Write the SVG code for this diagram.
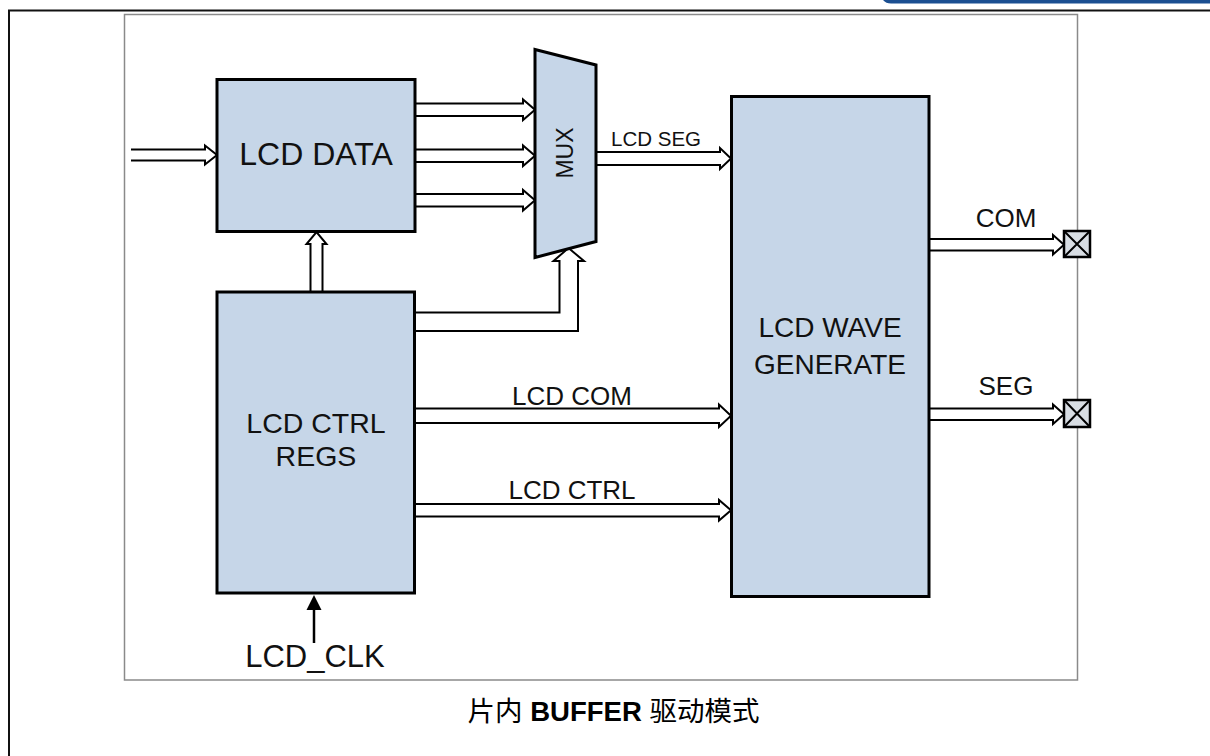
<svg xmlns="http://www.w3.org/2000/svg" width="1210" height="756" viewBox="0 0 1210 756">
<style>
.box{fill:#c6d6e8;stroke:#000;stroke-width:3}
.arr{fill:#fff;stroke:#000;stroke-width:2;stroke-linejoin:miter}
.t{font-family:"Liberation Sans",Arial,sans-serif;fill:#111}
.pad{fill:#d8dde3;stroke:#000;stroke-width:2.5}
.padx{stroke:#000;stroke-width:2}
</style>
<rect x="0" y="0" width="1210" height="756" fill="#fff"/>
<path d="M883 0 H1210 V3.5 H891 Q886 3.5 883 0 Z" fill="#1b4f91"/>
<path d="M9 756 V10.5 H1210" fill="none" stroke="#111" stroke-width="2"/>
<rect x="124.5" y="14.5" width="953" height="665.5" fill="#fff" stroke="#8a8a8a" stroke-width="1.5"/>

<g id="connectors">
<path class="arr" d="M131 149.5 H205 V145.5 L217 155 L205 164.5 V160.5 H131"/>
<path class="arr" d="M415 103.5 H523 V99.5 L535 109.75 L523 120 V116 H415"/>
<path class="arr" d="M415 149.5 H523 V145.5 L535 155.75 L523 166 V162 H415"/>
<path class="arr" d="M415 194 H523 V190 L535 200.25 L523 210.5 V206.5 H415"/>
<path class="arr" d="M596 152 H720 V148 L731 158.5 L720 169 V165 H596"/>
<path class="arr" d="M415 408.5 H719 V404.5 L731 415.75 L719 427 V423 H415"/>
<path class="arr" d="M415 504 H719 V500 L731 510.25 L719 520.5 V516.5 H415"/>
<path class="arr" d="M929 239 H1053 V235 L1064 244.75 L1053 254.5 V250.5 H929"/>
<path class="arr" d="M929 408.5 H1053 V404.5 L1064 414.25 L1053 424 V420 H929"/>
<path class="arr" d="M310.5 292 V244 H306.5 L316.5 232 L326.5 244 H322.5 V292"/>
<path class="arr" d="M415 312.5 H559.5 V261 H553.5 L568.5 248 L584 261 H578 V331 H415"/>
<line x1="314" y1="643" x2="314" y2="608" stroke="#000" stroke-width="2.5"/>
<path d="M314 595 L321.5 610 L306.5 610 Z" fill="#000"/>
</g>

<g id="lcd-data">
<rect class="box" x="217" y="79.5" width="198" height="152"/>
<text class="t" x="316" y="165" font-size="32" text-anchor="middle">LCD DATA</text>
</g>

<g id="mux">
<path class="box" d="M535 49.5 L596 65 L596 241.5 L535 257.5 Z"/>
<text class="t" transform="translate(572.5 153) rotate(-90)" font-size="23" text-anchor="middle">MUX</text>
</g>

<g id="lcd-ctrl-regs">
<rect class="box" x="217" y="292" width="197.5" height="301"/>
<text class="t" x="316" y="433" font-size="28.5" text-anchor="middle">LCD CTRL</text>
<text class="t" x="316" y="466" font-size="28.5" text-anchor="middle">REGS</text>
</g>

<g id="lcd-wave-generate">
<rect class="box" x="731.5" y="96.5" width="197.5" height="500"/>
<text class="t" x="830" y="337" font-size="28" text-anchor="middle">LCD WAVE</text>
<text class="t" x="830" y="374" font-size="28" text-anchor="middle">GENERATE</text>
</g>

<g id="pad-com">
<rect class="pad" x="1064" y="231" width="26" height="26"/>
<path class="padx" d="M1064 231 L1090 257 M1090 231 L1064 257"/>
</g>
<g id="pad-seg">
<rect class="pad" x="1064" y="400" width="26" height="27"/>
<path class="padx" d="M1064 400 L1090 427 M1090 400 L1064 427"/>
</g>

<g id="labels">
<text class="t" x="656" y="146" font-size="20.5" text-anchor="middle">LCD SEG</text>
<text class="t" x="572" y="405" font-size="26" text-anchor="middle">LCD COM</text>
<text class="t" x="572" y="499" font-size="26" text-anchor="middle">LCD CTRL</text>
<text class="t" x="1006" y="227" font-size="26" text-anchor="middle">COM</text>
<text class="t" x="1006" y="395" font-size="26" text-anchor="middle">SEG</text>
<text class="t" x="315" y="667" font-size="31" text-anchor="middle">LCD_CLK</text>
</g>

<g id="caption">
<text x="613.5" y="721" font-size="27.5" text-anchor="middle" font-family="'Liberation Sans','Noto Sans CJK SC',sans-serif" fill="#000">片内 <tspan font-weight="bold">BUFFER</tspan> 驱动模式</text>
</g>
</svg>
